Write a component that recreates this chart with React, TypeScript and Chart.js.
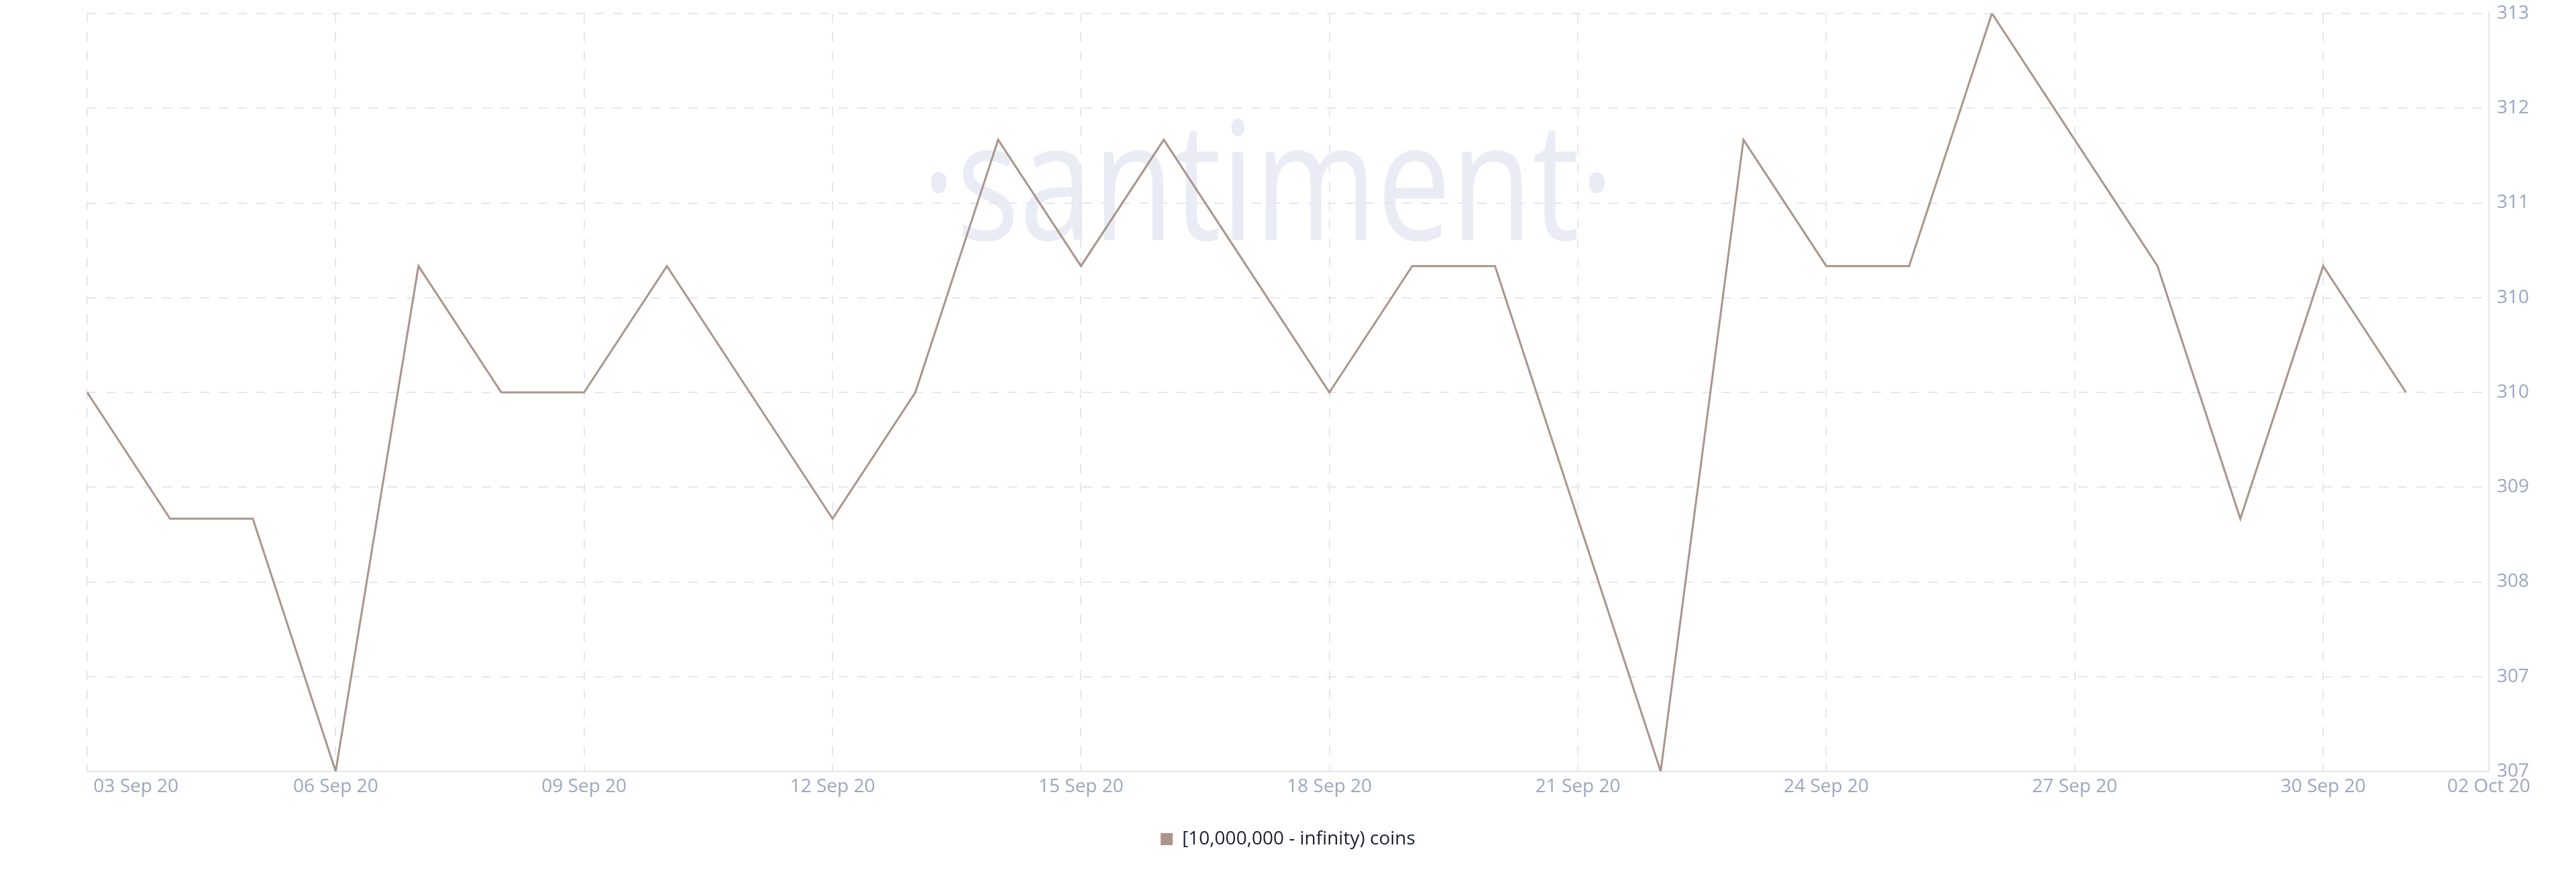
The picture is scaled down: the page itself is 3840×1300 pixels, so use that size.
import React, { useEffect, useRef } from "react";
import { Chart, registerables } from "chart.js";

Chart.register(...registerables);

// Daily dates shown on the x axis (last one is the axis end, no value)
const DATES = [
  "03 Sep 20", "04 Sep 20", "05 Sep 20", "06 Sep 20", "07 Sep 20", "08 Sep 20",
  "09 Sep 20", "10 Sep 20", "11 Sep 20", "12 Sep 20", "13 Sep 20", "14 Sep 20",
  "15 Sep 20", "16 Sep 20", "17 Sep 20", "18 Sep 20", "19 Sep 20", "20 Sep 20",
  "21 Sep 20", "22 Sep 20", "23 Sep 20", "24 Sep 20", "25 Sep 20", "26 Sep 20",
  "27 Sep 20", "28 Sep 20", "29 Sep 20", "30 Sep 20", "01 Oct 20", "02 Oct 20",
];

// Number of holders in the bucket, one value per day
const HOLDERS = [
  310, 309, 309, 307, 311, 310, 310, 311, 310, 309,
  310, 312, 311, 312, 311, 310, 311, 311, 309, 307,
  312, 311, 311, 313, 312, 311, 309, 311, 310,
];

const SERIES_LABEL = "[10,000,000 - infinity) coins";

const Y_MIN = 307;
const Y_MAX = 313;
const Y_STEP = 0.75;
const X_LABEL_EVERY = 3;

const LINE_COLOR = "#ab948b";
const GRID_COLOR = "rgb(228,231,241)";
const TICK_COLOR = "#9ba6c2";
const LEGEND_TEXT = "#1b1f35";
const MARK_COLOR = "rgb(233,236,245)";
const FONT = '"Open Sans", "DejaVu Sans", sans-serif';

// Large brand mark behind the plot
const watermark = {
  id: "watermark",
  beforeDraw(chart: any) {
    const { ctx } = chart;
    ctx.save();
    ctx.fillStyle = MARK_COLOR;
    ctx.font = `245px ${FONT}`;
    ctx.textAlign = "center";
    ctx.textBaseline = "alphabetic";
    ctx.translate(1890, 358);
    ctx.scale(0.805, 1);
    ctx.fillText("\u00B7santiment\u00B7", 0, 0);
    ctx.restore();
  },
};

export default function App() {
  const canvasRef = useRef<HTMLCanvasElement | null>(null);

  useEffect(() => {
    const canvas = canvasRef.current;
    if (!canvas) return;

    const chart = new Chart(canvas, {
      type: "line",
      data: {
        labels: DATES,
        datasets: [
          {
            label: SERIES_LABEL,
            data: HOLDERS,
            borderColor: LINE_COLOR,
            backgroundColor: LINE_COLOR,
            borderWidth: 3,
            pointRadius: 0,
            pointHoverRadius: 0,
            tension: 0,
            fill: false,
          },
        ],
      },
      options: {
        animation: false,
        responsive: true,
        maintainAspectRatio: false,
        layout: { padding: { left: 0, right: 0, top: 20, bottom: 25 } },
        plugins: {
          tooltip: { enabled: false },
          legend: {
            display: true,
            position: "bottom",
            labels: {
              boxWidth: 18,
              boxHeight: 18,
              padding: 10,
              color: LEGEND_TEXT,
              font: { family: FONT, size: 28 },
              generateLabels: (c: any) =>
                c.data.datasets.map((ds: any, i: number) => ({
                  text: ds.label,
                  fillStyle: ds.borderColor,
                  strokeStyle: ds.borderColor,
                  lineWidth: 0,
                  hidden: false,
                  datasetIndex: i,
                  fontColor: LEGEND_TEXT,
                })),
            },
          },
        },
        scales: {
          x: {
            type: "category",
            offset: false,
            grid: {
              display: true,
              drawTicks: false,
              lineWidth: 2,
              color: (ctx: any) =>
                ctx.index % X_LABEL_EVERY === 0 ? GRID_COLOR : "rgba(0,0,0,0)",
            },
            border: { display: true, color: GRID_COLOR, width: 2, dash: [14, 14] },
            ticks: {
              autoSkip: false,
              maxRotation: 0,
              minRotation: 0,
              padding: 6,
              color: TICK_COLOR,
              font: { family: FONT, size: 28 },
              callback: (_v: any, index: number) => {
                const last = DATES.length - 1;
                if (index === 0) return " ".repeat(20) + DATES[0];
                if (index % X_LABEL_EVERY === 0 || index === last) return DATES[index];
                return "";
              },
            },
            afterFit: (scale: any) => {
              scale.height = 77;
              scale.paddingLeft = 130;
              scale.paddingRight = 0;
            },
          },
          y: {
            type: "linear",
            position: "right",
            min: Y_MIN,
            max: Y_MAX,
            grid: {
              display: true,
              drawTicks: false,
              lineWidth: 2,
              color: GRID_COLOR,
            },
            border: { display: true, color: GRID_COLOR, width: 2, dash: [14, 14] },
            ticks: {
              stepSize: Y_STEP,
              padding: 12,
              color: TICK_COLOR,
              font: { family: FONT, size: 28 },
              callback: (v: any) => String(Math.floor(Number(v) + 1e-9)),
            },
            afterFit: (scale: any) => {
              scale.width = 130;
              scale.paddingTop = 0;
              scale.paddingBottom = 0;
            },
          },
        },
      },
      plugins: [watermark],
    });

    return () => chart.destroy();
  }, []);

  return (
    <div style={{ position: "absolute", left: 0, top: 0, width: 3840, height: 1300, background: "#fff" }}>
      <canvas ref={canvasRef} />
    </div>
  );
}
